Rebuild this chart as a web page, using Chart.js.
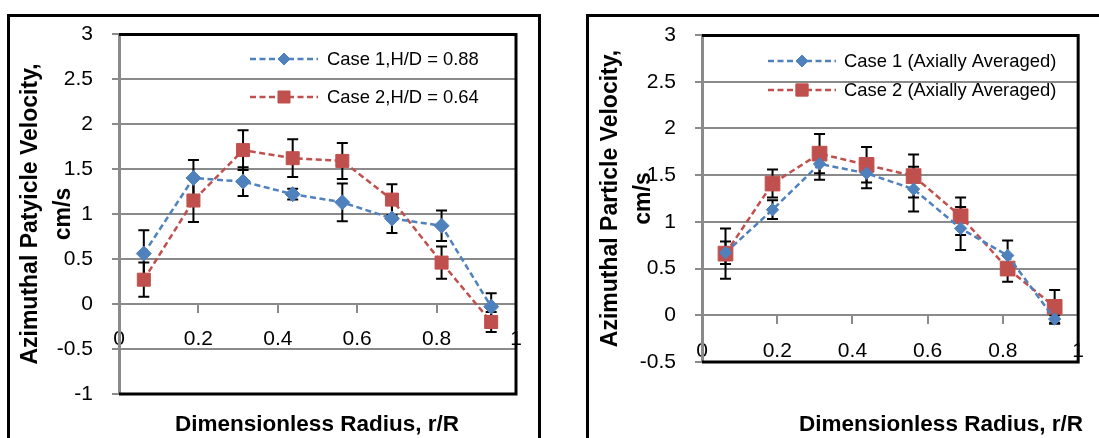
<!DOCTYPE html>
<html>
<head>
<meta charset="utf-8">
<script src="https://cdn.jsdelivr.net/npm/chart.js@4/dist/chart.umd.min.js"></script>
<style>
  body { margin: 0; background: #fff; width: 1099px; height: 438px; overflow: hidden; position: relative; }
  .box { position: absolute; top: 14px; border: 3px solid #000; background: #fff; }
  #box1 { left: 7px; width: 528px; height: 440px; }
  #box2 { left: 586px; width: 520px; height: 440px; }
  canvas { display: block; }
</style>
</head>
<body>
<div class="box" id="box1"><canvas id="chartLeft" width="528" height="421"></canvas></div>
<div class="box" id="box2"><canvas id="chartRight" width="510" height="421"></canvas></div>
<script>
// r/R positions of the measuring rings
const radius = [0.0625, 0.1875, 0.3125, 0.4375, 0.5625, 0.6875, 0.8125, 0.9375];

// left chart: two fill heights
const case1H = [0.56, 1.40, 1.36, 1.22, 1.13, 0.95, 0.87, -0.03];
const case1HErr = [0.26, 0.20, 0.16, 0.06, 0.21, 0.16, 0.17, 0.15];
const case2H = [0.27, 1.15, 1.71, 1.62, 1.59, 1.16, 0.46, -0.20];
const case2HErr = [0.19, 0.24, 0.22, 0.21, 0.20, 0.17, 0.18, 0.11];

// right chart: axially averaged
const case1Avg = [0.67, 1.13, 1.62, 1.52, 1.35, 0.93, 0.64, -0.04];
const case1AvgErr = [0.12, 0.10, 0.17, 0.16, 0.24, 0.23, 0.16, 0.04];
const case2Avg = [0.66, 1.41, 1.73, 1.61, 1.49, 1.06, 0.50, 0.09];
const case2AvgErr = [0.27, 0.15, 0.21, 0.19, 0.23, 0.20, 0.14, 0.18];

const labelsLeft = ['Case 1,H/D = 0.88', 'Case 2,H/D = 0.64'];
const labelsRight = ['Case 1 (Axially Averaged)', 'Case 2 (Axially Averaged)'];
const yTitleLeft = ['Azimuthal Patyicle Velocity,', 'cm/s'];
const yTitleRight = ['Azimuthal Particle Velocity,', 'cm/s'];
const xTitle = 'Dimensionless Radius, r/R';

const FONT = "'Liberation Sans', Arial, sans-serif";
const BLUE = '#4f81bd';
const RED = '#c0504d';
const GRID = '#8a8a8a';

Chart.defaults.font.family = FONT;
Chart.defaults.color = '#000';

const toPoints = (vals) => radius.map((r, i) => ({ x: r, y: vals[i] }));
const plainNum = (v) => String(Number(v.toFixed(2)));

// black frame on top / right / bottom of the plot area
const plotFrame = {
    id: 'plotFrame',
    beforeDatasetsDraw(chart) {
        const { ctx, chartArea: a } = chart;
        ctx.save();
        ctx.strokeStyle = '#000';
        ctx.lineWidth = 3;
        ctx.beginPath();
        ctx.moveTo(a.left, a.top + 0.5);
        ctx.lineTo(a.right, a.top + 0.5);
        ctx.lineTo(a.right, a.bottom);
        ctx.lineTo(a.left, a.bottom);
        ctx.stroke();
        ctx.restore();
    }
};

// vertical error bars, drawn under the markers
const errorBars = {
    id: 'errorBars',
    beforeDatasetsDraw(chart) {
        const { ctx, scales: { x, y } } = chart;
        const cap = 5.5;
        ctx.save();
        ctx.strokeStyle = '#000';
        ctx.lineWidth = 2;
        chart.data.datasets.forEach((ds) => {
            ds.data.forEach((p, i) => {
                const e = ds.errors[i];
                const px = x.getPixelForValue(p.x);
                const top = y.getPixelForValue(p.y + e);
                const bot = y.getPixelForValue(p.y - e);
                ctx.beginPath();
                ctx.moveTo(px, top);
                ctx.lineTo(px, bot);
                ctx.moveTo(px - cap, top);
                ctx.lineTo(px + cap, top);
                ctx.moveTo(px - cap, bot);
                ctx.lineTo(px + cap, bot);
                ctx.stroke();
            });
        });
        ctx.restore();
    }
};

// legend inside the plot: dashed line with marker in the middle
const innerLegend = {
    id: 'innerLegend',
    afterDraw(chart, args, opts) {
        const ctx = chart.ctx;
        chart.data.datasets.forEach((ds, i) => {
            const yy = opts.rows[i];
            ctx.save();
            ctx.strokeStyle = ds.borderColor;
            ctx.lineWidth = ds.borderWidth;
            ctx.setLineDash(ds.borderDash);
            ctx.beginPath();
            ctx.moveTo(opts.lineStart, yy);
            ctx.lineTo(opts.lineEnd, yy);
            ctx.stroke();
            ctx.restore();

            ctx.save();
            ctx.fillStyle = ds.borderColor;
            ctx.strokeStyle = ds.borderColor;
            Chart.helpers.drawPoint(ctx, {
                pointStyle: ds.pointStyle,
                radius: opts.radii[i],
                rotation: 0,
                borderWidth: 1
            }, (opts.lineStart + opts.lineEnd) / 2, yy);
            ctx.restore();

            ctx.save();
            ctx.fillStyle = '#000';
            ctx.font = opts.fontSize + 'px ' + FONT;
            ctx.textAlign = 'left';
            ctx.textBaseline = 'middle';
            ctx.fillText(ds.label, opts.textX, yy + 1);
            ctx.restore();
        });
    }
};

// x axis title, sits under the plot frame
const bottomTitle = {
    id: 'bottomTitle',
    afterDraw(chart, args, opts) {
        const ctx = chart.ctx;
        ctx.save();
        ctx.fillStyle = '#000';
        ctx.font = 'bold 22.5px ' + FONT;
        ctx.textAlign = 'center';
        ctx.textBaseline = 'middle';
        ctx.fillText(opts.text, opts.x, opts.y);
        ctx.restore();
    }
};

function makeChart(id, cfg) {
    const ctx = document.getElementById(id).getContext('2d');
    return new Chart(ctx, {
        type: 'line',
        data: {
            datasets: [
                {
                    label: cfg.labels[0],
                    data: toPoints(cfg.s1),
                    errors: cfg.e1,
                    borderColor: BLUE,
                    backgroundColor: BLUE,
                    borderWidth: 2.5,
                    borderDash: [6, 3.5],
                    pointStyle: 'rectRot',
                    pointRadius: cfg.r1,
                    pointBorderWidth: 1,
                    fill: false,
                    tension: 0
                },
                {
                    label: cfg.labels[1],
                    data: toPoints(cfg.s2),
                    errors: cfg.e2,
                    borderColor: RED,
                    backgroundColor: RED,
                    borderWidth: 2.5,
                    borderDash: [6, 3.5],
                    pointStyle: 'rect',
                    pointRadius: cfg.r2,
                    pointBorderWidth: 1,
                    fill: false,
                    tension: 0
                }
            ]
        },
        options: {
            responsive: false,
            animation: false,
            devicePixelRatio: 1,
            layout: { padding: cfg.padding, autoPadding: false },
            scales: {
                x: {
                    type: 'linear',
                    min: 0,
                    max: 1,
                    position: { y: 0 },
                    ticks: {
                        stepSize: 0.2,
                        autoSkip: false,
                        maxRotation: 0,
                        padding: 15,
                        color: '#000',
                        font: { size: 21 },
                        callback: plainNum
                    },
                    grid: { drawOnChartArea: false, drawTicks: true, tickLength: 8, color: GRID, lineWidth: 2 },
                    border: { display: true, color: GRID, width: 2 }
                },
                y: {
                    type: 'linear',
                    min: cfg.yMin,
                    max: 3,
                    ticks: { stepSize: 0.5, padding: 19, color: '#000', font: { size: 21 }, callback: plainNum },
                    grid: { color: GRID, lineWidth: 2, tickLength: 7 },
                    border: { color: GRID, width: 3 },
                    title: {
                        display: true,
                        text: cfg.yTitle,
                        color: '#000',
                        font: { size: 23, weight: 'bold', lineHeight: 1.4 },
                        padding: { top: cfg.titlePad, bottom: 0 }
                    },
                    afterFit(scale) {
                        scale.width = cfg.yWidth;
                        // keep the label padding from pushing the plot down
                        scale.paddingTop = 0;
                        scale.paddingBottom = 0;
                    }
                }
            },
            plugins: {
                legend: { display: false },
                tooltip: { enabled: false },
                innerLegend: cfg.legend,
                bottomTitle: { text: xTitle, x: cfg.xTitleX, y: 407.5 }
            }
        },
        plugins: [plotFrame, errorBars, innerLegend, bottomTitle]
    });
}

const chartLeft = makeChart('chartLeft', {
    labels: labelsLeft,
    s1: case1H, e1: case1HErr, r1: 7.5,
    s2: case2H, e2: case2HErr, r2: 9.2,
    yMin: -1,
    yTitle: yTitleLeft,
    titlePad: 5,
    yWidth: 109,
    padding: { left: 0, top: 17, right: 22, bottom: 44 },
    xTitleX: 307,
    legend: { lineStart: 240, lineEnd: 308, textX: 317, rows: [42, 80], radii: [6, 8.5], fontSize: 18.4 }
});

const chartRight = makeChart('chartRight', {
    labels: labelsRight,
    s1: case1Avg, e1: case1AvgErr, r1: 6.2,
    s2: case2Avg, e2: case2AvgErr, r2: 10.4,
    yMin: -0.5,
    yTitle: yTitleRight,
    titlePad: 6,
    yWidth: 113,
    padding: { left: 0, top: 18, right: 11, bottom: 76 },
    xTitleX: 352,
    legend: { lineStart: 179, lineEnd: 247, textX: 255, rows: [44, 73], radii: [6, 8.7], fontSize: 18.4 }
});
</script>
</body>
</html>
